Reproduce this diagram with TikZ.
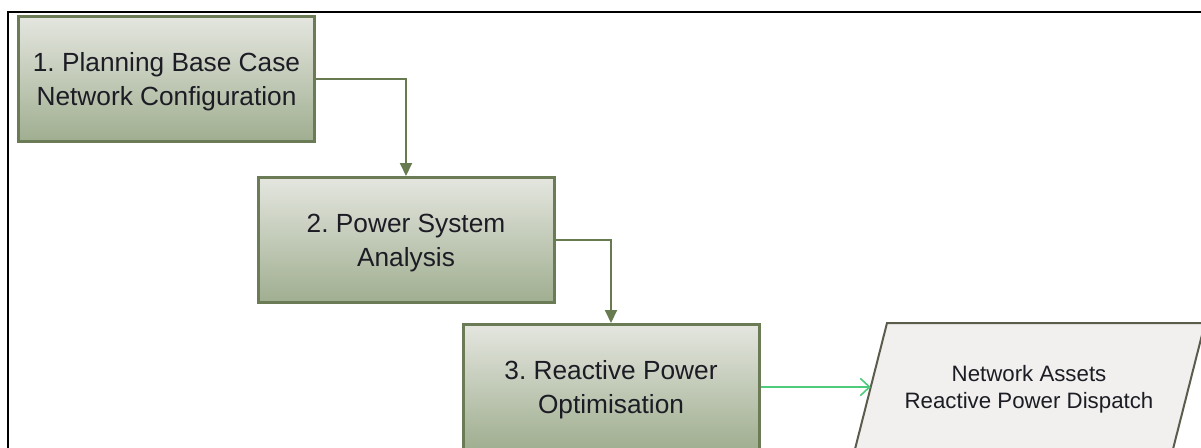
\documentclass[tikz,border=0pt]{standalone}
\usepackage{fontspec}
\setmainfont{Liberation Sans}
\usetikzlibrary{arrows.meta}
\frenchspacing
\definecolor{boxtop}{HTML}{E4E6DF}
\definecolor{boxbot}{HTML}{A0AE90}
\definecolor{boxedge}{HTML}{6A7B55}
\definecolor{flowline}{HTML}{677A50}
\definecolor{outfill}{HTML}{F1F0EE}
\definecolor{outedge}{HTML}{5C5C4C}
\definecolor{outarrow}{HTML}{4FCB7C}
\definecolor{txt}{HTML}{1C1C24}
\tikzset{
  stepbox/.style={draw=boxedge, line width=2.25pt, top color=boxtop, bottom color=boxbot,
    minimum width=222pt, minimum height=93.75pt, inner sep=0pt, align=center,
    text depth=0pt, text=txt, font=\fontsize{19.7}{25.5}\selectfont},
  flow/.style={draw=flowline, line width=1.5pt, -{Triangle[length=9.75pt,width=9pt]}},
  result/.style={draw=outarrow, line width=1.5pt, -{Straight Barb[length=7pt,width=13pt,line width=1.2pt]}},
  datatext/.style={align=center, text=txt, inner sep=0pt, text depth=0pt,
    font=\fontsize{16.7}{20.25}\selectfont},
  dataedge/.style={draw=outedge, fill=outfill, line width=1.5pt}
}
\begin{document}
\begin{tikzpicture}[x=0.75pt, y=-0.75pt]
\clip (0,0) rectangle (1201,447);
% outer frame
\draw[line width=1.5pt, black] (8,470) -- (8,12) -- (1220,12);
% process steps
\node[stepbox] (b1) at (166.5,79) {1. Planning Base Case\\Network Configuration};
\node[stepbox] (b2) at (406,240) {2. Power System\\Analysis};
\node[stepbox] (b3) at (611,387) {3. Reactive Power\\Optimisation};
% output data parallelogram
\draw[dataedge] (854.5,451) -- (887,323) -- (1205,323) -- (1172.5,451) -- cycle;
\coordinate (outin) at (870.75,387);
\node[datatext] (out) at (1029,387) {Network Assets\\Reactive Power Dispatch};
% connectors
\draw[flow] (b1.east) -| (b2.north);
\draw[flow] (b2.east) -| (b3.north);
\draw[result] (b3.east) -- (outin);
\end{tikzpicture}
\end{document}
